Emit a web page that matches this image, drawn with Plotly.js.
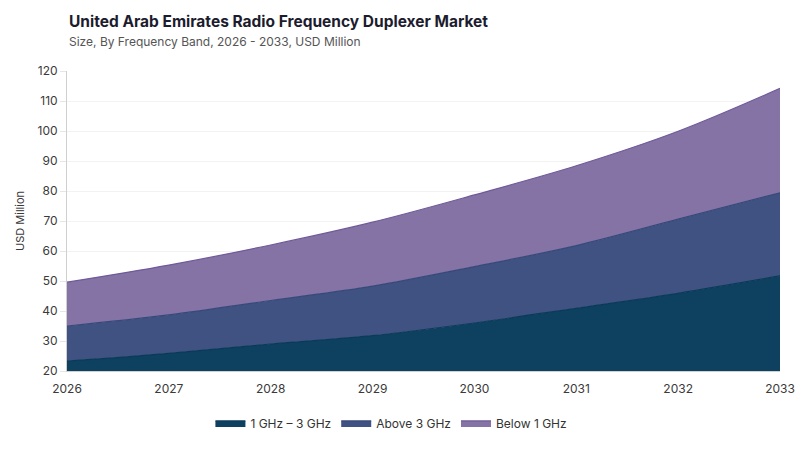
<!DOCTYPE html>
<html>
<head>
<meta charset="utf-8">
<script src="https://cdn.plot.ly/plotly-3.0.1.min.js"></script>
<style>
  html, body { margin: 0; padding: 0; background: #ffffff; }
  #chart { width: 800px; height: 450px; }
</style>
</head>
<body>
<div id="chart"></div>
<script>
var years = [2026, 2027, 2028, 2029, 2030, 2031, 2032, 2033];
var band1to3 = [23.3, 25.9, 29.0, 31.8, 36.0, 40.9, 45.9, 51.7];
var bandAbove3 = [11.7, 12.8, 14.5, 16.5, 18.8, 20.9, 24.7, 27.7];
var bandBelow1 = [14.6, 16.6, 18.5, 21.3, 23.9, 26.6, 29.3, 34.8];
var yTicks = [20, 30, 40, 50, 60, 70, 80, 90, 100, 110, 120];

var fontFamily = 'Inter, "Open Sans", sans-serif';

function make_trace(name, values, fill, edge) {
  return {
    x: years,
    y: values,
    name: name,
    type: 'scatter',
    mode: 'lines',
    stackgroup: 'bands',
    fillcolor: fill,
    line: { color: edge, width: 1.2, shape: 'spline', smoothing: 1 },
    hoverinfo: 'x+y+name'
  };
}

var traces = [
  make_trace('1 GHz \u2013 3 GHz', band1to3, '#0e4060', '#0a3a58'),
  make_trace('Above 3 GHz', bandAbove3, '#3f5282', '#36497a'),
  make_trace('Below 1 GHz', bandBelow1, '#8573a5', '#6f5a98')
];

var layout = {
  width: 800,
  height: 450,
  margin: { l: 67, r: 20, t: 71, b: 79, pad: 0 },
  paper_bgcolor: '#ffffff',
  plot_bgcolor: '#ffffff',
  font: { family: fontFamily, color: '#3a3a3a', size: 12 },
  showlegend: true,
  legend: {
    orientation: 'h',
    x: 0.455,
    xanchor: 'center',
    y: -0.173,
    yanchor: 'middle',
    traceorder: 'normal',
    itemwidth: 30,
    font: { size: 12, color: '#333333' }
  },
  xaxis: {
    type: 'linear',
    range: [2026, 2033],
    tickvals: years,
    ticktext: years.map(String),
    showgrid: false,
    zeroline: false,
    showline: true,
    linecolor: '#d0d0d0',
    linewidth: 1,
    ticks: 'outside',
    ticklen: 7,
    tickcolor: 'rgba(0,0,0,0)',
    tickfont: { size: 12, color: '#3a3a3a' },
    automargin: false
  },
  yaxis: {
    range: [20, 120],
    tickvals: yTicks,
    showgrid: true,
    gridcolor: '#f2f2f2',
    gridwidth: 1,
    zeroline: false,
    showline: true,
    linecolor: '#cfcfcf',
    linewidth: 1,
    ticks: 'outside',
    ticklen: 6,
    tickcolor: '#e6e6e6',
    tickfont: { size: 12, color: '#3a3a3a' },
    title: { text: 'USD Million', font: { size: 11, color: '#3a3a3a' }, standoff: 10 },
    automargin: false
  },
  annotations: [
    {
      xref: 'paper', yref: 'paper',
      x: 0, y: 1,
      xshift: 0, yshift: 50,
      xanchor: 'left', yanchor: 'middle',
      showarrow: false,
      text: '<b>United Arab Emirates Radio Frequency Duplexer Market</b>',
      font: { family: fontFamily, size: 15.5, color: '#1c1c2e' }
    },
    {
      xref: 'paper', yref: 'paper',
      x: 0, y: 1,
      xshift: 0, yshift: 30,
      xanchor: 'left', yanchor: 'middle',
      showarrow: false,
      text: 'Size, By Frequency Band, 2026 - 2033, USD Million',
      font: { family: fontFamily, size: 12, color: '#555555' }
    }
  ]
};

var config = { responsive: false, displayModeBar: false };

Plotly.newPlot('chart', traces, layout, config);
</script>
</body>
</html>
